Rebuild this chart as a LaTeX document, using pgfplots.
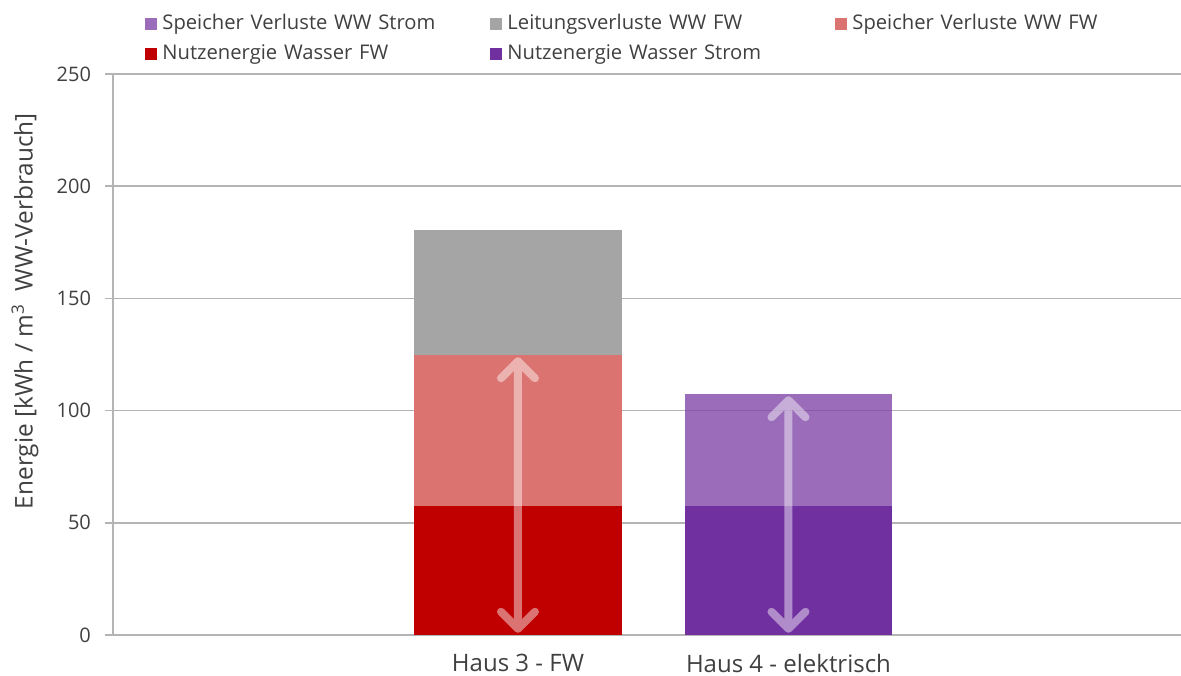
\documentclass[border=0pt]{standalone}
\usepackage{pgfplots}
\pgfplotsset{compat=1.18}
\usepackage{pgfplotstable}
\usepackage{fontspec}
\setmainfont{Open Sans}
\usetikzlibrary{arrows.meta}
\definecolor{nutzFW}{HTML}{C00000}
\definecolor{spFW}{HTML}{DB7370}
\definecolor{leit}{HTML}{A5A5A5}
\definecolor{nutzStrom}{HTML}{7030A0}
\definecolor{spStrom}{HTML}{9A6CBA}
\definecolor{gridc}{HTML}{B4B4B4}
\definecolor{txt}{HTML}{404040}
\pgfplotstableread{
x nutzFW nutzStrom spFW spStrom leit
0 57.5 0 67.3 0 55.7
1 0 57.5 0 49.9 0
}\datatab
\begin{document}
\begin{tikzpicture}
\path[use as bounding box] (-56.5pt,-20pt) rectangle (534pt,317.5pt);
\begin{axis}[
  at={(0,0)}, anchor=south west,
  scale only axis, width=534pt, height=280.5pt,
  ybar stacked, bar width=103.75pt,
  xmin=-1.497, xmax=2.451,
  ymin=0, ymax=250, ytick={0,50,...,250},
  xtick={0,1}, xticklabels={Haus 3 - FW, Haus 4 - elektrisch},
  axis lines=left, axis line style={-, gridc, line width=0.75pt},
  ymajorgrids, grid style={gridc, line width=0.75pt},
  tick align=outside, major tick length=4pt,
  ytick style={gridc, line width=0.75pt},
  xtick style={draw=none},
  /pgf/number format/assume math mode=true,
  yticklabel style={font=\fontsize{10}{12}\selectfont, text=txt, xshift=-3.5pt},
  xticklabel style={font=\fontsize{12}{14}\selectfont, text=txt, inner sep=0pt, text depth=0pt, anchor=north, yshift=-5.25pt},
  ylabel={Energie [kWh / m\textsuperscript{3}\ \ WW-Verbrauch]},
  ylabel style={at={(axis description cs:-0.0824,0.5775)}, anchor=center, font=\fontsize{12.2}{14}\selectfont, text=txt},
  legend columns=3,
  legend image code/.code={\fill[#1] (0pt,-3pt) rectangle (6pt,3pt);},
  legend style={draw=none, fill=none, inner sep=0pt, column sep=0pt, row sep=5pt,
    at={(0.03,1.107)}, anchor=north west,
    font=\fontsize{10.1}{12}\selectfont, text=txt,
    nodes={text height=7.5pt, text depth=2.5pt, inner ysep=0pt, inner xsep=2.5pt},
    /tikz/every even column/.append style={text width=161.5pt}},
  legend cell align=left,
]
\addplot[fill=nutzFW, draw=none, forget plot] table[x=x, y=nutzFW] {\datatab};
\addplot[fill=nutzStrom, draw=none, forget plot] table[x=x, y=nutzStrom] {\datatab};
\addplot[fill=spFW, draw=none, forget plot] table[x=x, y=spFW] {\datatab};
\addplot[fill=spStrom, draw=none, forget plot] table[x=x, y=spStrom] {\datatab};
\addplot[fill=leit, draw=none, forget plot] table[x=x, y=leit] {\datatab};
\addlegendimage{fill=spStrom, draw=none}
\addlegendentry{Speicher Verluste WW Strom}
\addlegendimage{fill=leit, draw=none}
\addlegendentry{Leitungsverluste WW FW}
\addlegendimage{fill=spFW, draw=none}
\addlegendentry{Speicher Verluste WW FW}
\addlegendimage{fill=nutzFW, draw=none}
\addlegendentry{Nutzenergie Wasser FW}
\addlegendimage{fill=nutzStrom, draw=none}
\addlegendentry{Nutzenergie Wasser Strom}
\coordinate (a0) at (axis cs:0,1);
\coordinate (a1) at (axis cs:0,123.8);
\coordinate (b0) at (axis cs:1,1);
\coordinate (b1) at (axis cs:1,106.4);
\coordinate (g0) at (axis cs:0.6165,100);
\coordinate (g1) at (axis cs:1.3835,100);
\end{axis}
\draw[black, opacity=0.12, line width=0.75pt] (g0) -- (g1);
\begin{scope}[transparency group, opacity=0.45]
\draw[white, line width=4pt, {Straight Barb[round, length=8.5pt, width=17pt]}-{Straight Barb[round, length=8.5pt, width=17pt]}] (a0) -- (a1);
\draw[white, line width=4pt, {Straight Barb[round, length=8.5pt, width=17pt]}-{Straight Barb[round, length=8.5pt, width=17pt]}] (b0) -- (b1);
\end{scope}
\end{tikzpicture}
\end{document}
